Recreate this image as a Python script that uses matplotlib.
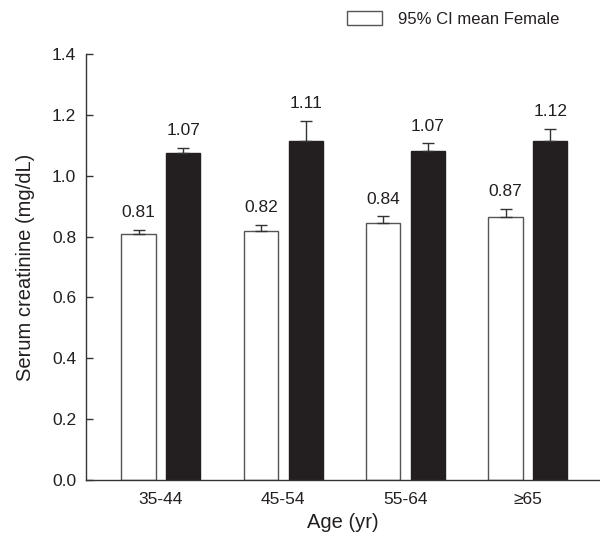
import matplotlib
matplotlib.use("Agg")
import matplotlib.pyplot as plt
import numpy as np
from matplotlib.patches import Patch

plt.rcParams['font.family'] = ['Liberation Sans', 'DejaVu Sans']

age_groups = ['35-44', '45-54', '55-64', '\u226565']
female_mean = [0.807, 0.819, 0.844, 0.865]
female_err = [0.014, 0.019, 0.022, 0.026]
male_mean = [1.076, 1.114, 1.081, 1.114]
male_err = [0.016, 0.067, 0.025, 0.040]
female_labels = ['0.81', '0.82', '0.84', '0.87']
male_labels = ['1.07', '1.11', '1.07', '1.12']

x = np.arange(len(age_groups))
off = 0.183
w = 0.28

fig = plt.figure(figsize=(6.0, 5.42), dpi=100)
ax = fig.add_axes([0.1433, 0.1144, 0.8567, 0.786])

ax.bar(x - off, female_mean, w, color='white', edgecolor='#555555', linewidth=1.0,
       yerr=[np.zeros(4), female_err], capsize=4, error_kw=dict(ecolor='#333333', elinewidth=1.0, capthick=1.0))
ax.bar(x + off, male_mean, w, color='#231f20', edgecolor='#231f20', linewidth=1.0,
       yerr=[np.zeros(4), male_err], capsize=4, error_kw=dict(ecolor='#333333', elinewidth=1.0, capthick=1.0))

for i in range(len(x)):
    ax.annotate(female_labels[i], (x[i] - off, female_mean[i] + female_err[i]),
                xytext=(0, 7), textcoords='offset points', ha='center', va='bottom',
                fontsize=12.5, color='#231f20')
    ax.annotate(male_labels[i], (x[i] + off, male_mean[i] + male_err[i]),
                xytext=(0, 7), textcoords='offset points', ha='center', va='bottom',
                fontsize=12.5, color='#231f20')

ax.set_xlim(-0.613, 3.589)
ax.set_ylim(0, 1.4)
ax.set_yticks(np.arange(0, 1.41, 0.2))
ax.set_yticklabels(['%.1f' % v for v in np.arange(0, 1.41, 0.2)])
ax.set_xticks(x)
ax.set_xticklabels(age_groups)

for s in ['top', 'right']:
    ax.spines[s].set_visible(False)
for s in ['left', 'bottom']:
    ax.spines[s].set_color('#333333')
    ax.spines[s].set_linewidth(1.0)

ax.tick_params(axis='y', direction='in', length=5, width=1.0, color='#333333',
               labelsize=12.5, pad=7, labelcolor='#231f20')
ax.tick_params(axis='x', length=0, labelsize=12.5, pad=9, labelcolor='#231f20')

ax.set_xlabel('Age (yr)', fontsize=14.5, color='#231f20', labelpad=4)
ax.set_ylabel('Serum creatinine (mg/dL)', fontsize=14.5, color='#231f20', labelpad=12)

handle = Patch(facecolor='white', edgecolor='#555555', linewidth=1.0)
fig.legend([handle], ['95% CI mean Female'], loc='center left',
           bbox_to_anchor=(0.578, 0.965), frameon=False, fontsize=12,
           handlelength=2.1, handleheight=0.85, handletextpad=1.0, borderpad=0,
           borderaxespad=0, labelcolor='#231f20')

fig.savefig('out.png', dpi=100)
